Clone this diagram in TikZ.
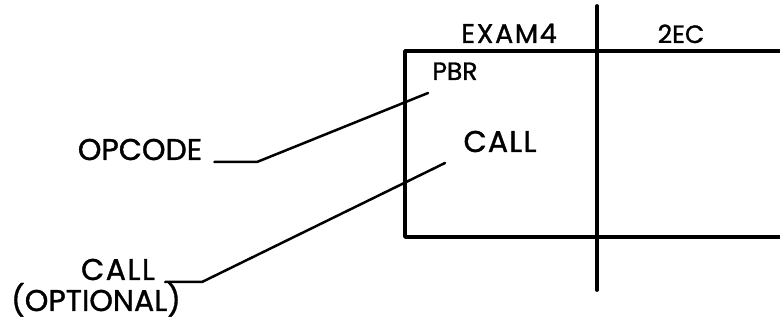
\documentclass[tikz,border=0pt]{standalone}
\usepackage{fontspec}
\setmainfont{Poppins}[FakeBold=1.2]
\usepackage{tikz}

\begin{document}
\begin{tikzpicture}[
				x=1pt, y=-1pt,
				line cap=round,
				line join=round,
				heavy/.style={line width=3.8pt},
				leader/.style={line width=2.5pt},
				big/.style={font=\fontsize{30}{32}\selectfont, inner sep=0pt, anchor=base},
				small/.style={font=\fontsize{25}{27}\selectfont, inner sep=0pt, anchor=base}
				]
				\useasboundingbox (0,0) rectangle (780,323);
				
				% Box and divider
				\draw[heavy] (780,51) -- (405,51) -- (405,237) -- (780,237);
				\draw[heavy] (597,6) -- (597,290);
				
				% Field names
				\node[small, font=\fontsize{27}{29}\selectfont] (exam) at (509,43) {\addfontfeature{LetterSpace=6}EXAM4};
				\node[small] (twoec) at (681,43) {2EC};
				\node[small] (pbr) at (455,80) {PBR};
				\node[big] (callin) at (500,152) {\addfontfeature{LetterSpace=4}CALL};
				
				% Side labels
				\node[big] (opcode) at (140,160) {OPCODE};
				\node[big] (callout) at (118,280) {\addfontfeature{LetterSpace=5}CALL};
				\node[big] (optional) at (96,311) {(OPTIONAL)};
				
				% Leaders
				\coordinate (opbend) at (257,162);
				\coordinate (optip) at (428,93);
				\coordinate (callbend) at (202,282);
				\coordinate (calltip) at (445,163);
				\draw[leader] ([shift={(12,2)}]opcode.base east) -- (opbend) -- (optip);
				\draw[leader] ([shift={(10,2)}]callout.base east) -- (callbend) -- (calltip);
			\end{tikzpicture}
\end{document}
